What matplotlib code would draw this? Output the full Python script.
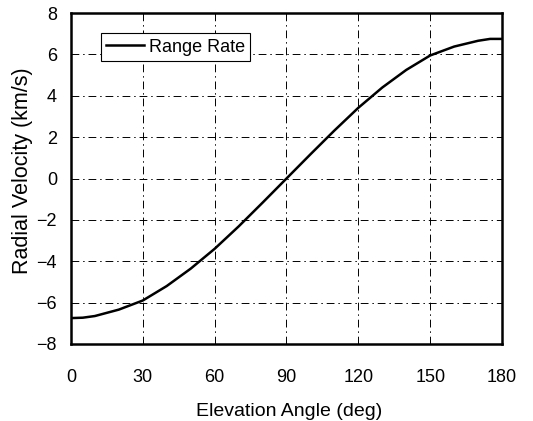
import matplotlib
matplotlib.use("Agg")
import matplotlib.pyplot as plt

elevation = [0, 5, 10, 20, 30, 40, 50, 60, 70, 80, 90, 100, 110, 120, 130, 140, 150, 160, 170, 175, 180]
range_rate = [-6.75, -6.73, -6.65, -6.34, -5.9, -5.2, -4.36, -3.4, -2.32, -1.17, 0.0,
              1.17, 2.32, 3.42, 4.4, 5.25, 5.95, 6.38, 6.66, 6.75, 6.75]
xticks = [0, 30, 60, 90, 120, 150, 180]
yticks = [-8, -6, -4, -2, 0, 2, 4, 6, 8]

plt.rcParams['font.family'] = ['Liberation Sans', 'DejaVu Sans']
fig = plt.figure(figsize=(5.33, 4.21), dpi=100)
ax = fig.add_axes([0.133, 0.183, 0.809, 0.786])
ax.plot(elevation, range_rate, color='black', lw=1.8, label='Range Rate')
ax.set_xlim(0, 180)
ax.set_ylim(-8, 8)
ax.set_xticks(xticks)
ax.set_yticks(yticks)
ax.grid(True, color='black', linestyle=(0, (8, 4, 1.5, 4)), lw=0.7)
ax.tick_params(length=0, labelsize=13)
ax.tick_params(axis='x', pad=18)
ax.tick_params(axis='y', pad=10)
for s in ax.spines.values():
    s.set_linewidth(1.8)
ax.set_xlabel('Elevation Angle (deg)', fontsize=14)
ax.set_ylabel('Radial Velocity (km/s)', fontsize=15.5)
ax.xaxis.set_label_coords(0.507, -0.179)
ax.yaxis.set_label_coords(-0.088, 0.524)
leg = ax.legend(loc='upper left', bbox_to_anchor=(0.07, 0.939), fontsize=13,
                frameon=True, fancybox=False, edgecolor='black', framealpha=1,
                handlelength=2.1, handletextpad=0.25, borderpad=0.3,
                borderaxespad=0)
leg.get_frame().set_linewidth(0.8)
fig.savefig('out.png', dpi=100)
